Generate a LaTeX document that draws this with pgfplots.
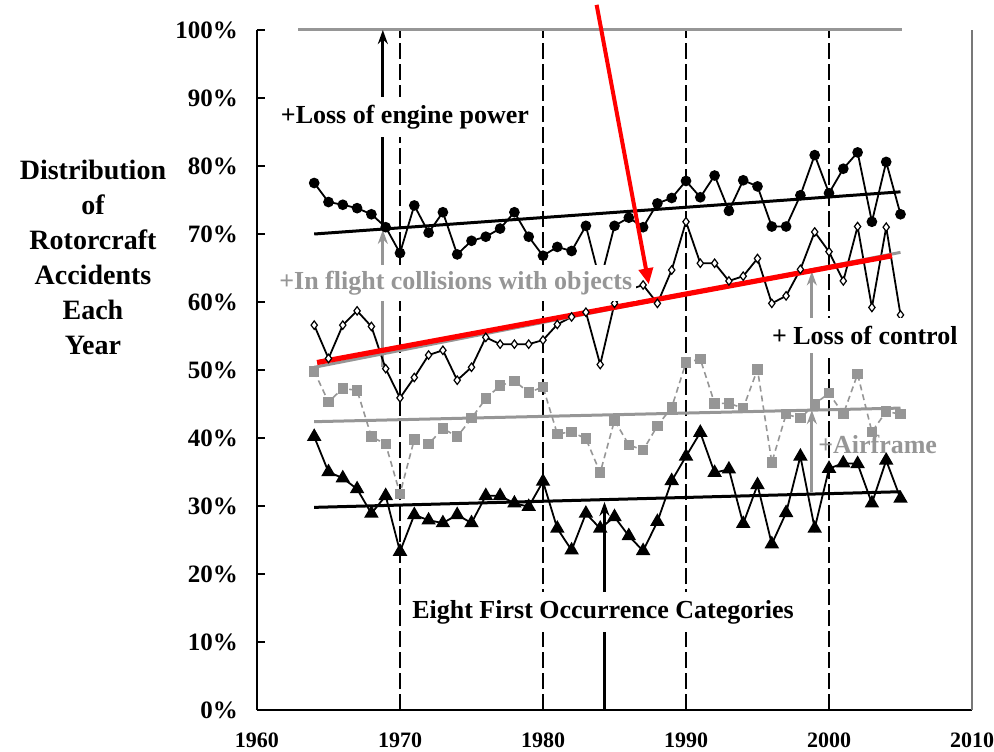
\documentclass[border=0pt]{standalone}
\usepackage{pgfplots}
\pgfplotsset{compat=1.18}
\usepackage{fontspec}
\setmainfont{Liberation Serif}
\usetikzlibrary{arrows.meta}
\definecolor{mgray}{RGB}{150,150,150}
\begin{document}
\begin{tikzpicture}
\useasboundingbox (-128.5pt,-20.5pt) rectangle (368.5pt,355pt);
\begin{axis}[
  scale only axis, width=357.5pt, height=340pt,
  xmin=1960, xmax=2010, ymin=0, ymax=100,
  axis lines=left, axis line style={-, line width=1.1pt, black},
  xtick={1960,1970,...,2010}, ytick={0,10,...,100},
  tick align=inside, major tick length=4pt, tick style={black, line width=0.9pt},
  /pgf/number format/assume math mode=true,
  x tick label style={/pgf/number format/1000 sep={}, font=\fontsize{11}{13}\selectfont\bfseries, yshift=-8pt},
  yticklabel={\pgfmathprintnumber{\tick}\%},
  y tick label style={font=\fontsize{12.5}{14}\selectfont\bfseries, xshift=-6pt},
  clip=false,
]
% dashed decade lines
\foreach \yr in {1970,1980,1990,2000}{
  \edef\tmp{\noexpand\draw[black, line width=0.6pt, dash pattern=on 8pt off 2.5pt] (axis cs:\yr,0) -- (axis cs:\yr,100);}
  \tmp
}
% right frame line
\draw[mgray!80!black, line width=0.6pt] (axis cs:2010,0) -- (axis cs:2010,100);
% top gray line
\draw[mgray, line width=1.5pt] (axis cs:1962.9,100) -- (axis cs:2005.1,100);
% arrows
\draw[black, line width=1.4pt, -{Stealth[length=7pt,width=5pt]}] (axis cs:1968.8,70.8) -- (axis cs:1968.8,100);
\draw[mgray, line width=1.4pt, -{Stealth[length=7pt,width=5pt]}] (axis cs:1968.8,50.5) -- (axis cs:1968.8,70.6);
\draw[mgray, line width=1.4pt, -{Stealth[length=7pt,width=5pt]}] (axis cs:1998.8,44.2) -- (axis cs:1998.8,64.5);
\draw[mgray, line width=1.4pt, -{Stealth[length=7pt,width=5pt]}] (axis cs:1998.8,32.0) -- (axis cs:1998.8,44.1);
\draw[black, line width=1.2pt, -{Stealth[length=7pt,width=5pt]}] (axis cs:1984.3,0) -- (axis cs:1984.3,30.6);

% circles
\addplot[black, line width=0.9pt, mark=*, mark size=2.2pt] coordinates {
(1964,77.5)(1965,74.7)(1966,74.3)(1967,73.8)(1968,72.9)(1969,71.0)(1970,67.2)
(1971,74.2)(1972,70.2)(1973,73.2)(1974,67.0)(1975,69.0)(1976,69.6)(1977,70.8)
(1978,73.2)(1979,69.6)(1980,66.8)(1981,68.1)(1982,67.5)(1983,71.2)(1984,63.0)
(1985,71.2)(1986,72.4)(1987,71.0)(1988,74.5)(1989,75.3)(1990,77.8)(1991,75.4)
(1992,78.6)(1993,73.4)(1994,77.9)(1995,77.0)(1996,71.1)(1997,71.1)(1998,75.7)
(1999,81.6)(2000,76.0)(2001,79.6)(2002,82.0)(2003,71.8)(2004,80.6)(2005,72.9)};
% diamonds
\addplot[black, line width=0.9pt, mark=diamond*, mark size=2.1pt, mark options={fill=white, line width=0.6pt}] coordinates {
(1964,56.6)(1965,51.7)(1966,56.6)(1967,58.7)(1968,56.4)(1969,50.2)(1970,45.9)
(1971,48.9)(1972,52.2)(1973,52.9)(1974,48.5)(1975,50.4)(1976,54.8)(1977,53.8)
(1978,53.8)(1979,53.8)(1980,54.4)(1981,56.7)(1982,57.8)(1983,58.5)(1984,50.8)
(1985,59.8)(1986,61.8)(1987,62.5)(1988,59.8)(1989,64.7)(1990,71.8)(1991,65.7)
(1992,65.7)(1993,63.1)(1994,63.8)(1995,66.4)(1996,59.8)(1997,60.9)(1998,64.8)
(1999,70.3)(2000,67.4)(2001,63.1)(2002,71.1)(2003,59.2)(2004,71.0)(2005,58.1)};
% squares
\addplot[mgray, line width=0.8pt, dash pattern=on 3pt off 2pt, mark=square*, mark size=2.2pt, mark options={solid, fill=mgray}] coordinates {
(1964,49.8)(1965,45.3)(1966,47.3)(1967,47.0)(1968,40.2)(1969,39.1)(1970,31.8)
(1971,39.8)(1972,39.1)(1973,41.4)(1974,40.2)(1975,42.9)(1976,45.8)(1977,47.7)
(1978,48.4)(1979,46.7)(1980,47.5)(1981,40.6)(1982,40.9)(1983,39.9)(1984,34.9)
(1985,42.6)(1986,39.0)(1987,38.2)(1988,41.8)(1989,44.5)(1990,51.1)(1991,51.6)
(1992,45.1)(1993,45.1)(1994,44.4)(1995,50.1)(1996,36.4)(1997,43.5)(1998,42.9)
(1999,45.0)(2000,46.6)(2001,43.5)(2002,49.4)(2003,40.9)(2004,43.9)(2005,43.5)};
% triangles
\addplot[black, line width=0.9pt, mark=triangle*, mark size=3.3pt] coordinates {
(1964,40.2)(1965,35.0)(1966,34.1)(1967,32.5)(1968,28.9)(1969,31.5)(1970,23.3)
(1971,28.7)(1972,27.9)(1973,27.5)(1974,28.7)(1975,27.5)(1976,31.5)(1977,31.5)
(1978,30.4)(1979,29.9)(1980,33.6)(1981,26.7)(1982,23.5)(1983,28.9)(1984,26.7)
(1985,28.4)(1986,25.6)(1987,23.4)(1988,27.7)(1989,33.7)(1990,37.3)(1991,40.8)
(1992,34.9)(1993,35.4)(1994,27.4)(1995,33.1)(1996,24.4)(1997,29.0)(1998,37.3)
(1999,26.7)(2000,35.5)(2001,36.3)(2002,36.2)(2003,30.4)(2004,36.7)(2005,31.1)};
% trend lines
\addplot[black, line width=1.5pt] coordinates {(1964,70.0)(2005,76.2)};
\addplot[mgray, line width=1.5pt] coordinates {(1964,50.4)(2005,67.3)};
\addplot[mgray, line width=1.5pt] coordinates {(1964,42.4)(2005,44.4)};
\addplot[black, line width=1.5pt] coordinates {(1964,29.8)(2005,32.1)};
\addplot[red, line width=2.6pt] coordinates {(1964.2,51.1)(2004.4,66.8)};

\coordinate (ra) at (axis cs:1983.75,103.7);
\coordinate (rb) at (axis cs:1987.4,62.6);
\coordinate (t1) at (axis cs:1970.35,87.2);
\coordinate (t2) at (axis cs:1973.9,62.8);
\coordinate (t3) at (axis cs:2002.5,55.1);
\coordinate (t4) at (axis cs:2003.4,39.0);
\coordinate (t5) at (axis cs:1984.2,14.4);
\coordinate (t6) at (axis description cs:-0.2294,0.665);
\end{axis}
% texts on top of everything
\node[fill=white, inner xsep=2pt, inner ysep=4pt, font=\fontsize{13}{15}\selectfont\bfseries] at (t1) {+Loss of engine power};
\node[fill=white, inner xsep=2pt, inner ysep=3pt, text=mgray, font=\fontsize{13}{15}\selectfont\bfseries] at (t2) {+In flight collisions with objects};
\node[fill=white, inner xsep=2pt, inner ysep=4pt, font=\fontsize{13}{15}\selectfont\bfseries] at (t3) {+ Loss of control};
\node[inner sep=1pt, text=mgray, font=\fontsize{13}{15}\selectfont\bfseries] at (t4) {+Airframe};
\node[fill=white, inner xsep=2pt, inner ysep=4pt, font=\fontsize{13}{15}\selectfont\bfseries] at (t5) {Eight First Occurrence Categories};
\node[align=center, font=\fontsize{14}{17.5}\selectfont\bfseries] at (t6) {Distribution\\of\\Rotorcraft\\Accidents\\Each\\Year};
% red arrow
\draw[red, line width=2pt, -{Triangle[length=8pt,width=7pt]}] (ra) -- (rb);
\end{tikzpicture}
\end{document}
